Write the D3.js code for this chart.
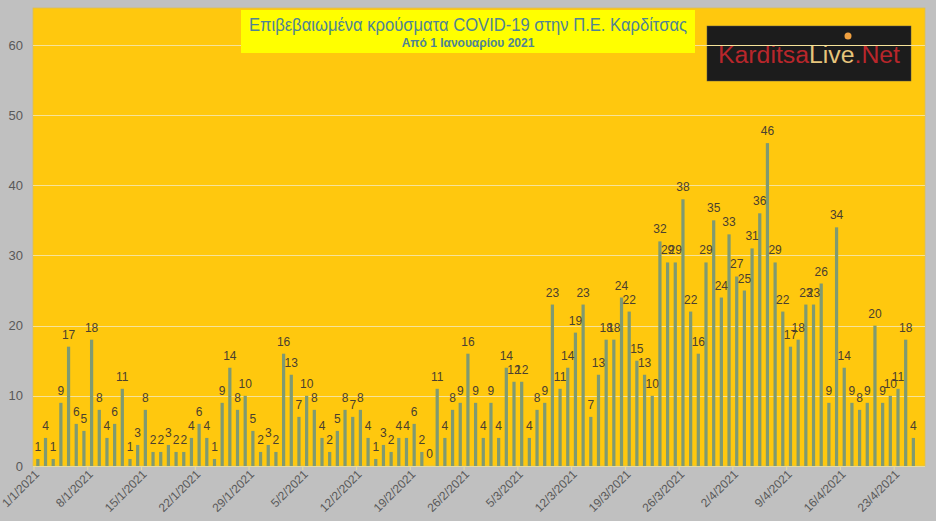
<!DOCTYPE html>
<html>
<head>
<meta charset="utf-8">
<style>
  body { margin: 0; background: #c0c0c0; }
  svg { display: block; font-family: "Liberation Sans", Arial, sans-serif; }
</style>
</head>
<body>
<script src="https://cdn.jsdelivr.net/npm/d3@7"></script>
<script>
var width = 936, height = 521;

// daily confirmed cases, one value per day from 1/1/2021
var startDay = "2021-01-01";
var cases = [
  1, 4, 1, 9, 17, 6, 5,
  18, 8, 4, 6, 11, 1, 3,
  8, 2, 2, 3, 2, 2, 4,
  6, 4, 1, 9, 14, 8, 10,
  5, 2, 3, 2, 16, 13, 7,
  10, 8, 4, 2, 5, 8, 7,
  8, 4, 1, 3, 2, 4, 4,
  6, 2, 0, 11, 4, 8, 9,
  16, 9, 4, 9, 4, 14, 12,
  12, 4, 8, 9, 23, 11, 14,
  19, 23, 7, 13, 18, 18, 24,
  22, 15, 13, 10, 32, 29, 29,
  38, 22, 16, 29, 35, 24, 33,
  27, 25, 31, 36, 46, 29, 22,
  17, 18, 23, 23, 26, 9, 34,
  14, 9, 8, 9, 20, 9, 10,
  11, 18, 4
];
var tickLabels = ["1/1/2021", "8/1/2021", "15/1/2021", "22/1/2021", "29/1/2021",
  "5/2/2021", "12/2/2021", "19/2/2021", "26/2/2021", "5/3/2021", "12/3/2021",
  "19/3/2021", "26/3/2021", "2/4/2021", "9/4/2021", "16/4/2021", "23/4/2021"];
var yTicks = [0, 10, 20, 30, 40, 50, 60];
var title = "Επιβεβαιωμένα κρούσματα COVID-19 στην Π.Ε. Καρδίτσας";
var subtitle = "Από 1 Ιανουαρίου 2021";

var days = d3.range(cases.length).map(function(i) {
  return d3.timeDay.offset(new Date(startDay + "T00:00:00"), i);
});
var fmt = d3.timeFormat("%-d/%-m/%Y");
var data = days.map(function(d, i) { return {day: fmt(d), v: cases[i]}; });

var plot = {left: 33, right: 925, top: 8, bottom: 466};

var svg = d3.select("body").append("svg")
  .attr("width", width)
  .attr("height", height);

svg.append("rect")
  .attr("width", width).attr("height", height)
  .attr("fill", "#c0c0c0");

svg.append("rect")
  .attr("x", plot.left).attr("y", plot.top)
  .attr("width", plot.right - plot.left).attr("height", plot.bottom - plot.top)
  .attr("fill", "#ffc80e")
  .attr("stroke", "#d9bd5a").attr("stroke-width", 0.8);

var x = d3.scaleBand()
  .domain(data.map(function(d) { return d.day; }))
  .range([plot.left + 1, plot.left + 1 + cases.length * 7.68])
  .paddingInner(0.58).paddingOuter(0.29);

var y = d3.scaleLinear()
  .domain([0, 65.25])
  .range([plot.bottom, plot.top]);

// logo (drawn under the gridlines, as in the picture)
var logo = svg.append("g");
logo.append("rect")
  .attr("x", 707).attr("y", 26).attr("width", 204).attr("height", 55)
  .attr("fill", "#1c1c1c").attr("stroke", "#555").attr("stroke-width", 0.5);
var lt = logo.append("text")
  .attr("x", 718).attr("y", 63)
  .attr("font-size", 23)
  .attr("textLength", 182).attr("lengthAdjust", "spacingAndGlyphs");
lt.append("tspan").attr("fill", "#b8262b").text("Karditsa");
lt.append("tspan").attr("fill", "#e6c57c").text("Live");
lt.append("tspan").attr("fill", "#b8262b").text(".Net");
logo.append("circle").attr("cx", 848).attr("cy", 36).attr("r", 3.5).attr("fill", "#f0a040");

// gridlines
svg.append("g")
  .selectAll("line")
  .data(yTicks.slice(1))
  .enter().append("line")
  .attr("x1", plot.left).attr("x2", plot.right)
  .attr("y1", function(d) { return Math.round(y(d)) + 0.5; })
  .attr("y2", function(d) { return Math.round(y(d)) + 0.5; })
  .attr("stroke", "#f6e39a").attr("stroke-width", 1);

// title box
svg.append("rect")
  .attr("x", 241).attr("y", 10).attr("width", 454).attr("height", 43)
  .attr("fill", "#ffff00");
svg.append("text")
  .attr("x", 468).attr("y", 31)
  .attr("text-anchor", "middle")
  .attr("font-size", 18)
  .attr("fill", "#4f8494")
  .attr("textLength", 438).attr("lengthAdjust", "spacingAndGlyphs")
  .text(title);
svg.append("text")
  .attr("x", 468).attr("y", 47)
  .attr("text-anchor", "middle")
  .attr("font-size", 12).attr("font-weight", "bold")
  .attr("fill", "#4f8494")
  .text(subtitle);

// bars
svg.append("g")
  .selectAll("rect")
  .data(data)
  .enter().append("rect")
  .attr("x", function(d) { return x(d.day); })
  .attr("width", x.bandwidth())
  .attr("y", function(d) { return y(d.v); })
  .attr("height", function(d) { return y(0) - y(d.v); })
  .attr("fill", "#7f9a72");

// data labels
svg.append("g")
  .selectAll("text")
  .data(data)
  .enter().append("text")
  .attr("x", function(d) { return x(d.day) + x.bandwidth() / 2; })
  .attr("y", function(d) { return y(d.v) - 8; })
  .attr("text-anchor", "middle")
  .attr("font-size", 12)
  .attr("fill", "#4a4030")
  .text(function(d) { return d.v; });

// y axis
var yAxis = d3.axisLeft(y).tickValues(yTicks).tickSize(0).tickPadding(10);
var gy = svg.append("g")
  .attr("transform", "translate(" + plot.left + ",0)")
  .call(yAxis);
gy.select(".domain").remove();
gy.selectAll("text").attr("font-size", 13).attr("fill", "#595959")
  .attr("font-family", "Liberation Sans, Arial, sans-serif");

// x axis: ticks every 7 days at the left edge of the day slot
var step = x.step();
var tickDays = data.filter(function(d, i) { return i % 7 === 0; });
var gx = svg.append("g");
gx.append("line")
  .attr("x1", plot.left).attr("x2", plot.right)
  .attr("y1", plot.bottom + 0.5).attr("y2", plot.bottom + 0.5)
  .attr("stroke", "#e8dca0");
gx.selectAll("line.tick")
  .data(tickDays)
  .enter().append("line")
  .attr("class", "tick")
  .attr("x1", function(d) { return x(d.day) - step * 0.29; })
  .attr("x2", function(d) { return x(d.day) - step * 0.29; })
  .attr("y1", plot.bottom).attr("y2", plot.bottom + 4)
  .attr("stroke", "#e8dca0");
gx.selectAll("text")
  .data(tickDays)
  .enter().append("text")
  .attr("transform", function(d) {
    var tx = x(d.day) - step * 0.29 + 6;
    return "translate(" + tx + "," + (plot.bottom + 9) + ") rotate(-45)";
  })
  .attr("text-anchor", "end")
  .attr("font-size", 12)
  .attr("fill", "#595959")
  .text(function(d, i) { return tickLabels[i]; });
</script>
</body>
</html>
